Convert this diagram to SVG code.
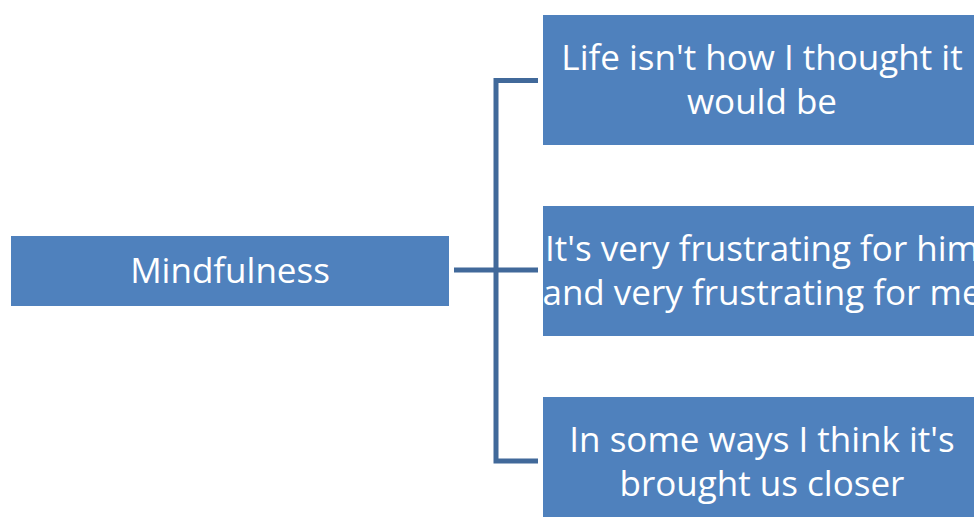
<svg xmlns="http://www.w3.org/2000/svg" width="974" height="517" viewBox="0 0 974 517">
<style>
.box{fill:#4F81BD;}
.t{fill:#FFFFFF;font-family:"Open Sans","Liberation Sans",sans-serif;font-size:35px;text-anchor:middle;}
.c{stroke:#41699A;stroke-width:5;fill:none;}
</style>
<rect width="974" height="517" fill="#FFFFFF"/>
<g id="connectors">
<line class="c" x1="454" y1="270" x2="538" y2="270"/>
<polyline class="c" points="538,80.5 496,80.5 496,461 538,461"/>
</g>
<g id="root">
<rect class="box" x="11" y="236" width="438" height="70"/>
<text class="t" x="230" y="283">Mindfulness</text>
</g>
<g id="n1">
<rect class="box" x="543" y="15" width="438" height="130"/>
<text class="t" x="762" y="70">Life isn't how I thought it</text>
<text class="t" x="762" y="114">would be</text>
</g>
<g id="n2">
<rect class="box" x="543" y="206" width="438" height="130"/>
<text class="t" x="762" y="261">It's very frustrating for him</text>
<text class="t" x="762" y="305">and very frustrating for me</text>
</g>
<g id="n3">
<rect class="box" x="543" y="397" width="438" height="130"/>
<text class="t" x="762" y="452">In some ways I think it's</text>
<text class="t" x="762" y="496">brought us closer</text>
</g>
</svg>
